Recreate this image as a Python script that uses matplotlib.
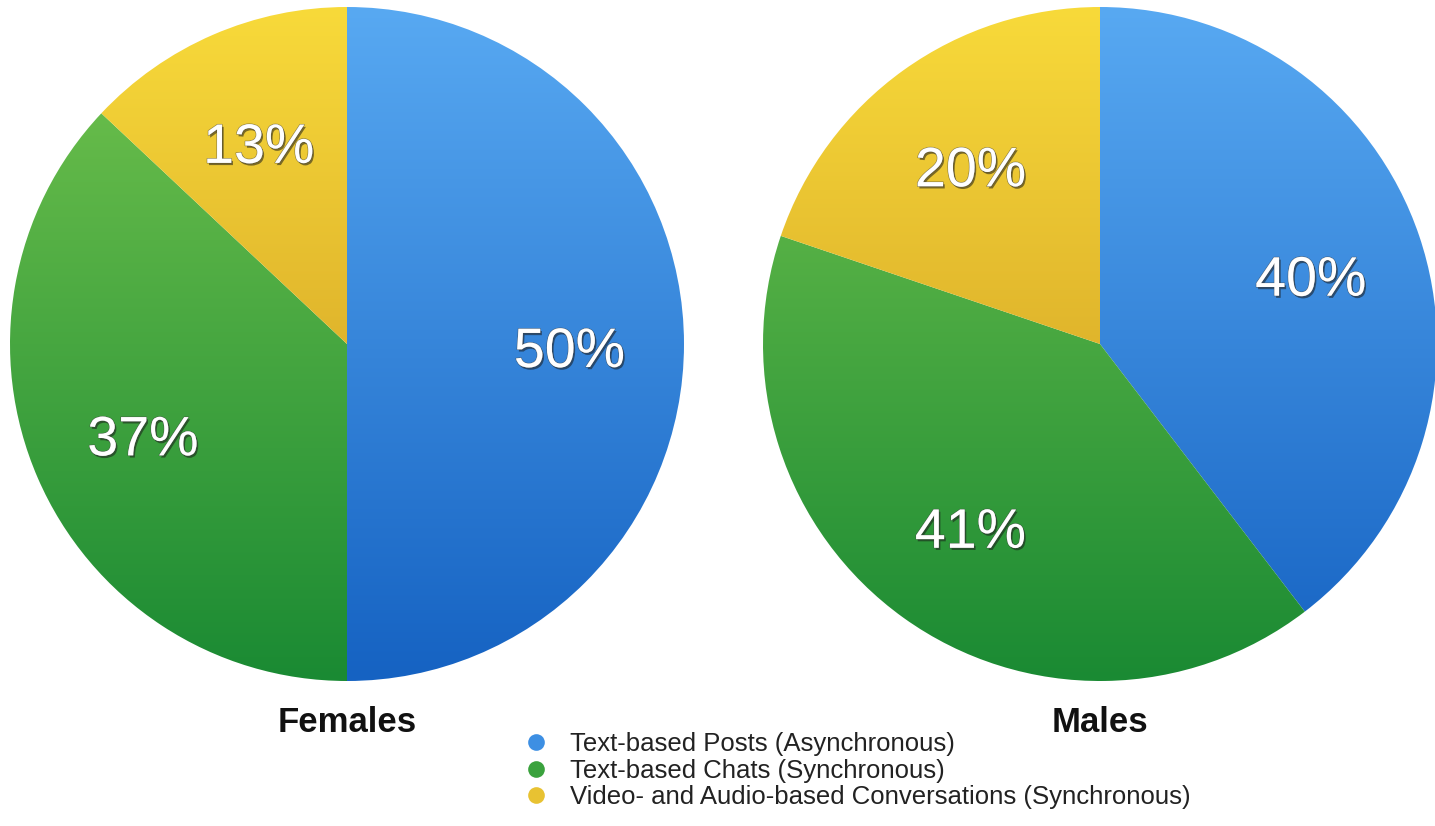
import numpy as np
import matplotlib
matplotlib.use("Agg")
import matplotlib.pyplot as plt
import matplotlib.patheffects as pe
from matplotlib.colors import LinearSegmentedColormap
from matplotlib.lines import Line2D

categories = [
    "Text-based Posts (Asynchronous)",
    "Text-based Chats (Synchronous)",
    "Video- and Audio-based Conversations (Synchronous)",
]
females = [50, 37, 13]
males = [40, 41, 20]
groups = ["Females", "Males"]

# (top colour, bottom colour) of the vertical shading in each slice
shades = [
    ("#58a9f2", "#1562c2"),
    ("#74c44e", "#1a8a33"),
    ("#f8da3a", "#c8901e"),
]
legend_colors = ["#3d8fe3", "#3aa23d", "#e8c232"]

W, H = 1435, 826
fig = plt.figure(figsize=(W / 100, H / 100), dpi=100)
ax = fig.add_axes([0, 0, 1, 1])

centers = [(347, H - 344), (1100, H - 344)]
radius = 337

for values, center, name in zip([females, males], centers, groups):
    wedges, texts, autotexts = ax.pie(
        values, center=center, radius=radius, startangle=90,
        counterclock=False, autopct="%.0f%%", pctdistance=0.66,
        wedgeprops=dict(linewidth=0),
        textprops=dict(color="white", fontsize=40, family="Liberation Sans"),
        frame=True,
    )
    x0, x1 = center[0] - radius, center[0] + radius
    y0, y1 = center[1] - radius, center[1] + radius
    grad = np.linspace(0, 1, 256).reshape(-1, 1)
    for w, (top, bottom) in zip(wedges, shades):
        w.set_facecolor("none")
        cmap = LinearSegmentedColormap.from_list("shade", [top, bottom])
        im = ax.imshow(grad, cmap=cmap, extent=(x0, x1, y0, y1),
                       origin="upper", aspect="auto", zorder=1,
                       interpolation="bilinear")
        im.set_clip_path(w)
    for t in autotexts:
        t.set_zorder(5)
        t.set_y(t.get_position()[1] - 9)
        t.set_path_effects([
            pe.withSimplePatchShadow(offset=(1.2, -1.6), shadow_rgbFace="#1a1a1a", alpha=0.55),
            pe.Stroke(linewidth=1.0, foreground="#444444", alpha=0.5),
            pe.Normal(),
        ])
    ax.text(center[0], H - 722, name, ha="center", va="center",
            fontsize=25, fontweight="bold", family="Liberation Sans",
            color="#111111")

handles = [
    Line2D([], [], marker="o", linestyle="none", markersize=12,
           markerfacecolor=c, markeredgecolor="none")
    for c in legend_colors
]
fig.legend(handles, categories, loc="upper left",
           bbox_to_anchor=(522 / W, 1 - 732 / H), frameon=False,
           prop=dict(family="Liberation Sans", size=18.5),
           handletextpad=0.75, labelspacing=0.1, handlelength=1.1,
           borderaxespad=0, borderpad=0, labelcolor="#222222")

ax.set_xlim(0, W)
ax.set_ylim(0, H)
ax.set_aspect("auto")
ax.axis("off")

fig.savefig("out.png", dpi=100)
